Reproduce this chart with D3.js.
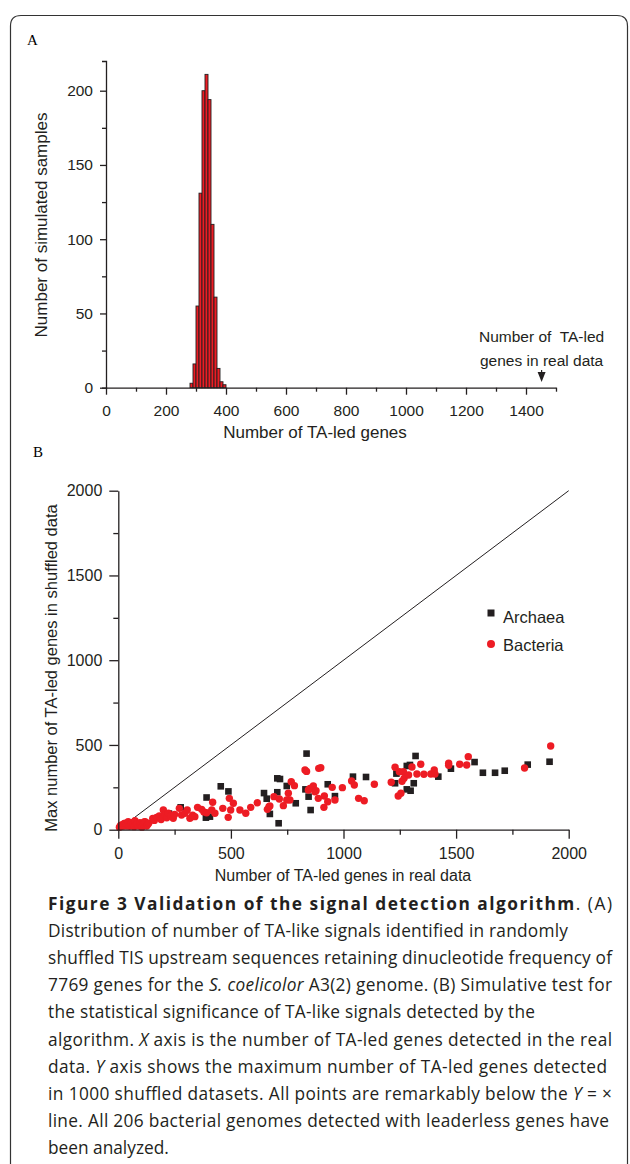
<!DOCTYPE html>
<html>
<head>
<meta charset="utf-8">
<script src="https://cdn.jsdelivr.net/npm/d3@7"></script>
<style>
  body { margin: 0; background: #fff; }
  svg { display: block; }
</style>
</head>
<body>
<div id="chart"></div>
<script>
"use strict";

// panel A: histogram of TA-led genes found in 1000 shuffled samples
var histBinStart = [280, 290, 300, 310, 320, 330, 340, 350, 360, 370, 380, 390];
var histCounts   = [3, 16, 55, 131, 200, 211, 194, 110, 61, 13, 4, 2];
var histBinWidth = 10;
var histXTicks = [0, 200, 400, 600, 800, 1000, 1200, 1400];
var histXMinor = [100, 300, 500, 700, 900, 1100, 1300, 1500];
var histYTicks = [0, 50, 100, 150, 200];
var histYMinor = [25, 75, 125, 175];
var realDataValue = 1452;

// panel B: real vs max shuffled counts
var scatterTicks = [0, 500, 1000, 1500, 2000];
var scatterMinor = [250, 750, 1250, 1750];

var archaea = [
  [225, 95], [277, 132], [392, 190], [389, 71], [407, 77], [455, 256], [489, 226],
  [647, 216], [659, 183], [673, 93], [706, 303], [718, 299], [706, 221], [712, 38],
  [748, 258], [788, 156], [836, 449], [831, 238], [845, 195], [854, 116], [930, 268],
  [962, 198], [1042, 313], [1100, 311], [1235, 331], [1229, 274], [1281, 376],
  [1295, 382], [1320, 435], [1281, 238], [1298, 230], [1312, 274], [1421, 313],
  [1477, 360], [1582, 399], [1619, 336], [1673, 336], [1716, 348], [1818, 384],
  [1915, 401]
];

var bacteria = [
  [5, 15], [10, 25], [15, 28], [20, 20], [25, 35], [30, 38], [35, 22], [40, 30],
  [44, 47], [50, 20], [55, 35], [59, 41], [65, 28], [70, 18], [74, 53], [80, 30],
  [84, 34], [90, 22], [96, 41], [100, 28], [105, 15], [111, 34], [115, 45],
  [119, 47], [126, 22], [130, 30], [135, 38], [153, 67], [160, 55], [170, 73],
  [182, 81], [190, 60], [200, 116], [207, 87], [215, 70], [222, 97], [234, 81],
  [244, 67], [250, 90], [271, 126], [281, 87], [296, 97], [306, 116], [318, 67],
  [330, 85], [340, 77], [352, 132], [370, 120], [380, 105], [392, 100], [419, 162],
  [415, 116], [429, 97], [464, 126], [488, 73], [493, 185], [499, 116], [511, 156],
  [540, 116], [566, 97], [588, 132], [617, 159], [662, 120], [669, 136], [673, 140],
  [691, 195], [715, 181], [733, 142], [748, 175], [755, 215], [762, 175], [768, 283],
  [782, 260], [829, 352], [836, 344], [844, 234], [851, 244], [866, 258], [873, 224],
  [878, 230], [888, 185], [890, 362], [899, 366], [913, 132], [915, 199], [930, 165],
  [950, 250], [962, 175], [995, 248], [1036, 287], [1048, 264], [1067, 185],
  [1092, 171], [1137, 268], [1212, 280], [1229, 368], [1243, 199], [1248, 342],
  [1255, 215], [1260, 286], [1266, 342], [1269, 303], [1289, 323], [1304, 370],
  [1326, 329], [1343, 386], [1357, 327], [1388, 329], [1403, 352], [1406, 329],
  [1467, 392], [1467, 380], [1516, 386], [1547, 382], [1554, 431], [1804, 364],
  [1920, 494]
];

// caption, one entry per line: [text, style] pieces
var captionLines = [
  [["Figure 3 Validation of the signal detection algorithm", "b"], [". (A)", ""]],
  [["Distribution of number of TA-like signals identified in randomly", ""]],
  [["shuffled TIS upstream sequences retaining dinucleotide frequency of", ""]],
  [["7769 genes for the ", ""], ["S. coelicolor", "i"], [" A3(2) genome. (B) Simulative test for", ""]],
  [["the statistical significance of TA-like signals detected by the", ""]],
  [["algorithm. ", ""], ["X", "i"], [" axis is the number of TA-led genes detected in the real", ""]],
  [["data. ", ""], ["Y", "i"], [" axis shows the maximum number of TA-led genes detected", ""]],
  [["in 1000 shuffled datasets. All points are remarkably below the ", ""], ["Y", "i"], [" = \u00d7", ""]],
  [["line. All 206 bacterial genomes detected with leaderless genes have", ""]],
  [["been analyzed.", ""]]
];
// line widths to fit (null = natural width)
var captionWidths = [564, 520, 564, 564, 487, 564, 559, 564, 561, null];

var RED = "#ed1c24", INK = "#231f20";
var sans = "'Liberation Sans', Arial, sans-serif";

var svg = d3.select("#chart").append("svg")
    .attr("width", 630)
    .attr("height", 1164);

// outer frame with rounded top corners
svg.append("path")
    .attr("d", "M10.5,1164 V26 Q10.5,15.5 21,15.5 H617 Q627.5,15.5 627.5,26 V1164")
    .attr("fill", "none")
    .attr("stroke", "#333")
    .attr("stroke-width", 1.2);

function styleAxis(g, size) {
  g.selectAll("text")
      .attr("font-family", sans)
      .attr("font-size", size)
      .attr("fill", INK);
  g.selectAll("line, path").attr("stroke", INK).attr("stroke-width", 1.3);
}

// ---------------- panel A ----------------
var xA = d3.scaleLinear().domain([0, 1500]).range([106, 556]);
var yA = d3.scaleLinear().domain([0, 220]).range([387.7, 61]);

svg.append("text")
    .attr("x", 27).attr("y", 45)
    .attr("font-family", "'Liberation Serif', serif")
    .attr("font-size", 15)
    .text("A");

svg.append("g").selectAll("rect")
    .data(histBinStart)
  .enter().append("rect")
    .attr("x", function(d) { return xA(d); })
    .attr("y", function(d, i) { return yA(histCounts[i]); })
    .attr("width", function(d) { return xA(d + histBinWidth) - xA(d); })
    .attr("height", function(d, i) { return yA(0) - yA(histCounts[i]); })
    .attr("fill", RED)
    .attr("stroke", INK)
    .attr("stroke-width", 0.9);

var gAx = svg.append("g").attr("transform", "translate(0," + yA(0) + ")");
gAx.call(d3.axisBottom(xA).tickValues(histXTicks).tickFormat(d3.format("d"))
    .tickSize(7).tickSizeOuter(0).tickPadding(10));
gAx.append("g").call(d3.axisBottom(xA).tickValues(histXMinor).tickSize(4).tickFormat(""))
    .select(".domain").remove();
styleAxis(gAx, 15.5);

var gAy = svg.append("g").attr("transform", "translate(" + xA(0) + ",0)");
gAy.call(d3.axisLeft(yA).tickValues(histYTicks).tickFormat(d3.format("d"))
    .tickSize(6).tickSizeOuter(4).tickPadding(7));
gAy.append("g").call(d3.axisLeft(yA).tickValues(histYMinor).tickSize(4).tickFormat(""))
    .select(".domain").remove();
styleAxis(gAy, 15.5);

svg.append("text")
    .attr("x", 315).attr("y", 438)
    .attr("text-anchor", "middle")
    .attr("font-family", sans).attr("font-size", 17).attr("fill", INK)
    .text("Number of TA-led genes");

svg.append("text")
    .attr("transform", "translate(47,225) rotate(-90)")
    .attr("text-anchor", "middle")
    .attr("font-family", sans).attr("font-size", 17).attr("fill", INK)
    .text("Number of simulated samples");

// arrow pointing at the value in the real data
var ax = xA(realDataValue);
svg.append("text")
    .attr("x", ax).attr("y", 342)
    .attr("text-anchor", "middle")
    .attr("font-family", sans).attr("font-size", 15.5).attr("fill", INK)
    .attr("xml:space", "preserve")
    .text("Number of  TA-led");
svg.append("text")
    .attr("x", ax).attr("y", 366)
    .attr("text-anchor", "middle")
    .attr("font-family", sans).attr("font-size", 15.5).attr("fill", INK)
    .text("genes in real data");
svg.append("line")
    .attr("x1", ax).attr("x2", ax).attr("y1", 370).attr("y2", 376)
    .attr("stroke", INK).attr("stroke-width", 1.2);
svg.append("path")
    .attr("d", "M" + (ax - 4) + ",372 L" + (ax + 4) + ",372 L" + ax + ",382 Z")
    .attr("fill", INK);

// ---------------- panel B ----------------
var xB = d3.scaleLinear().domain([0, 2000]).range([118.3, 568.7]);
var yB = d3.scaleLinear().domain([0, 2000]).range([829.7, 490.7]);

svg.append("text")
    .attr("x", 33).attr("y", 457)
    .attr("font-family", "'Liberation Serif', serif")
    .attr("font-size", 15)
    .text("B");

// Y = X reference line
svg.append("line")
    .attr("x1", xB(0)).attr("y1", yB(0))
    .attr("x2", xB(2000)).attr("y2", yB(2000))
    .attr("stroke", INK).attr("stroke-width", 1);

svg.append("g").selectAll("rect")
    .data(archaea)
  .enter().append("rect")
    .attr("x", function(d) { return xB(d[0]) - 3.3; })
    .attr("y", function(d) { return yB(d[1]) - 3.3; })
    .attr("width", 6.6)
    .attr("height", 6.6)
    .attr("fill", INK);

svg.append("g").selectAll("circle")
    .data(bacteria)
  .enter().append("circle")
    .attr("cx", function(d) { return xB(d[0]); })
    .attr("cy", function(d) { return yB(d[1]); })
    .attr("r", 3.7)
    .attr("fill", RED);

var gBx = svg.append("g").attr("transform", "translate(0," + yB(0) + ")");
gBx.call(d3.axisBottom(xB).tickValues(scatterTicks).tickFormat(d3.format("d"))
    .tickSize(9).tickSizeOuter(0).tickPadding(9));
gBx.append("g").call(d3.axisBottom(xB).tickValues(scatterMinor).tickSize(5).tickFormat(""))
    .select(".domain").remove();
styleAxis(gBx, 16);

var gBy = svg.append("g").attr("transform", "translate(" + xB(0) + ",0)");
gBy.call(d3.axisLeft(yB).tickValues(scatterTicks).tickFormat(d3.format("d"))
    .tickSize(9).tickSizeOuter(0).tickPadding(7));
gBy.append("g").call(d3.axisLeft(yB).tickValues(scatterMinor).tickSize(5).tickFormat(""))
    .select(".domain").remove();
styleAxis(gBy, 16);

svg.append("text")
    .attr("x", 343).attr("y", 881)
    .attr("text-anchor", "middle")
    .attr("font-family", sans).attr("font-size", 16).attr("fill", INK)
    .text("Number of TA-led genes in real data");

svg.append("text")
    .attr("transform", "translate(57,668) rotate(-90)")
    .attr("text-anchor", "middle")
    .attr("font-family", sans).attr("font-size", 16.5).attr("fill", INK)
    .text("Max number of TA-led genes in shuffled data");

// legend
var legend = svg.append("g").attr("font-family", sans).attr("font-size", 16.5).attr("fill", INK);
legend.append("rect").attr("x", 487.5).attr("y", 609.5).attr("width", 7).attr("height", 7).attr("fill", INK);
legend.append("text").attr("x", 503).attr("y", 623).text("Archaea");
legend.append("circle").attr("cx", 491).attr("cy", 644).attr("r", 4).attr("fill", RED);
legend.append("text").attr("x", 503).attr("y", 651).text("Bacteria");

// ---------------- caption ----------------
var cap = svg.append("g")
    .attr("font-family", "'Open Sans', 'Noto Sans', sans-serif")
    .attr("font-size", 17.3)
    .attr("fill", "#231f20");

captionLines.forEach(function(line, i) {
  var t = cap.append("text")
      .attr("x", 48)
      .attr("y", 910 + i * 27.1)
      .attr("xml:space", "preserve");
  if (captionWidths[i]) {
    t.attr("textLength", captionWidths[i]).attr("lengthAdjust", "spacing");
  }
  line.forEach(function(seg) {
    var s = t.append("tspan").text(seg[0]);
    if (seg[1] === "b") s.attr("font-weight", "bold");
    if (seg[1] === "i") s.attr("font-style", "italic");
  });
});
</script>
</body>
</html>
